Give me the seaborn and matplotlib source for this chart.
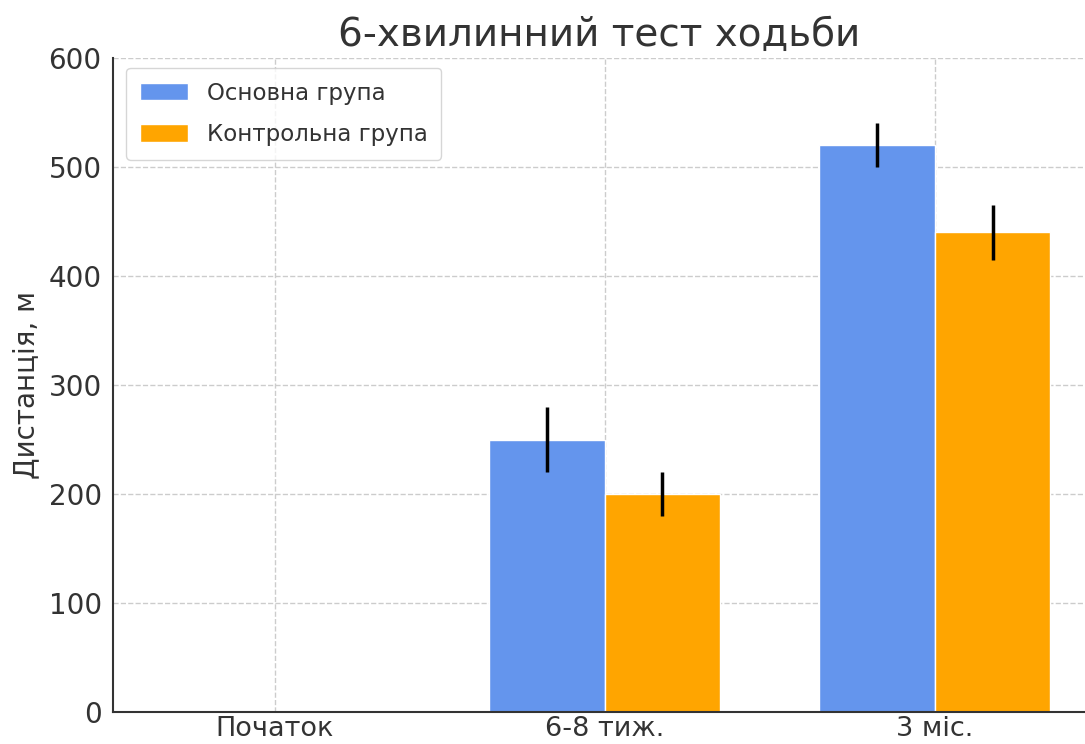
import numpy as np
import pandas as pd
import matplotlib
matplotlib.use("Agg")
import matplotlib.pyplot as plt
import seaborn as sns

# Walking-test distances by visit and group
categories = ["Початок", "6-8 тиж.", "3 міс."]
groups = ["Основна група", "Контрольна група"]
main_values = [0, 250, 520]
control_values = [0, 200, 440]
main_err = [np.nan, 30, 20]
control_err = [np.nan, 20, 25]
yticks = [0, 100, 200, 300, 400, 500, 600]

colors = {"Основна група": "#6495ED", "Контрольна група": "#FFA500"}
text_color = "#333333"

df = pd.DataFrame({
    "visit": categories * 2,
    "group": [groups[0]] * 3 + [groups[1]] * 3,
    "distance": main_values + control_values,
})

sns.set_style("white")
plt.rcParams["font.family"] = ["DejaVu Sans"]
plt.rcParams["text.color"] = text_color
plt.rcParams["axes.labelcolor"] = text_color
plt.rcParams["xtick.color"] = text_color
plt.rcParams["ytick.color"] = text_color

fig = plt.figure(figsize=(10.85, 7.44), dpi=100)
ax = fig.add_axes([0.104, 0.043, 0.896, 0.879])

sns.barplot(data=df, x="visit", y="distance", hue="group", order=categories,
            hue_order=groups, palette=colors, width=0.7, errorbar=None,
            saturation=1, ax=ax)

# Error bars centred on each bar
for container, errs in zip(ax.containers, [main_err, control_err]):
    for bar, e in zip(container, errs):
        if np.isnan(e):
            continue
        cx = bar.get_x() + bar.get_width() / 2
        ax.errorbar(cx, bar.get_height(), yerr=e, fmt="none", ecolor="black",
                    elinewidth=2.5, capsize=0, zorder=5)

ax.set_xlim(-0.49, 2.455)
ax.set_ylim(0, 600)
ax.set_yticks(yticks)
ax.set_axisbelow(True)
ax.grid(True, linestyle="--", color="#cccccc", linewidth=1)

for side in ["top", "right"]:
    ax.spines[side].set_visible(False)
for side in ["left", "bottom"]:
    ax.spines[side].set_color(text_color)
    ax.spines[side].set_linewidth(1.5)

ax.tick_params(axis="both", labelsize=20, length=4, width=1, direction="in",
               colors=text_color)
ax.tick_params(axis="y", pad=8)
ax.tick_params(axis="x", pad=3, labelsize=19.5)
ax.set_xlabel("")
ax.set_ylabel("Дистанція, м", fontsize=20, labelpad=6)
ax.set_title("6-хвилинний тест ходьби", fontsize=28, color=text_color, pad=9)

leg = ax.legend(loc="upper left", fontsize=16.5, frameon=True, fancybox=True,
                handlelength=2.1, handleheight=0.8, borderpad=0.6,
                labelspacing=0.8, handletextpad=0.8, borderaxespad=0,
                bbox_to_anchor=(0.014, 0.985))
leg.get_frame().set_edgecolor("#cccccc")
for t in leg.get_texts():
    t.set_color(text_color)

fig.savefig("out.png", dpi=100)
